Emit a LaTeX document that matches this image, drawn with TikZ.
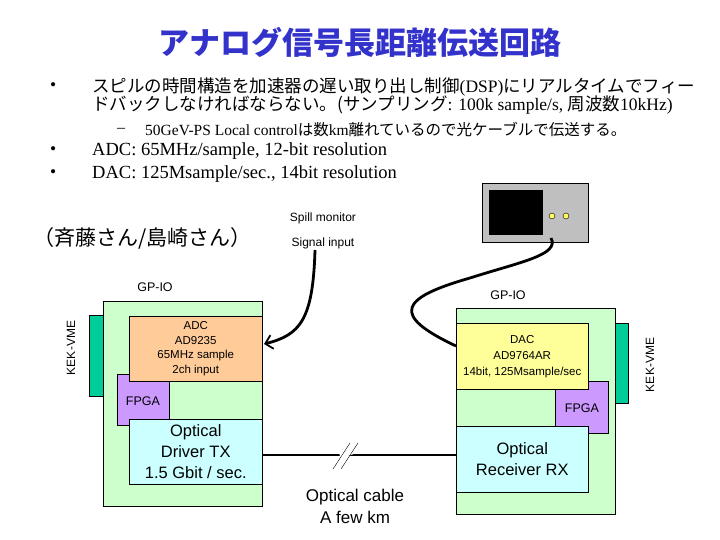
\documentclass[tikz,border=0pt]{standalone}
\usepackage{fontspec}
\usetikzlibrary{arrows.meta}
\setmainfont{Liberation Serif}
\setsansfont{Liberation Sans}
\newfontfamily\cjk{Noto Sans CJK JP}
\begin{document}
\begin{tikzpicture}[x=1pt,y=-1pt,
  box/.style={draw=black,line width=0.5pt,anchor=north west,inner sep=0},
  lbl/.style={font=\sffamily,align=center,inner sep=0},
  cable/.style={line width=2.8pt}]
\useasboundingbox (0,0) rectangle (720,540);
\definecolor{bgreen}{HTML}{CCFFCC}
\definecolor{vme}{HTML}{00CC99}
\definecolor{adc}{HTML}{FFCC99}
\definecolor{fpga}{HTML}{CC99FF}
\definecolor{opt}{HTML}{CCFFFF}
\definecolor{dac}{HTML}{FFFF99}
\definecolor{ttl}{HTML}{3333CC}
% title
\node (title) at (360,42) {\cjk\bfseries\fontsize{31}{33}\selectfont\color{ttl}アナログ信号長距離伝送回路};
% bullets
\tikzset{bul/.style={anchor=west,inner sep=0,font=\fontsize{17.5}{19}\selectfont}}
\node[bul] (b1) at (50,87) {•};
\node[bul] (t1) at (92,87) {{\cjk スピルの時間構造を加速器の遅い取り出し制御}(DSP){\cjk にリアルタイムでフィー}};
\node[bul] (t1b) at (92,105) {{\cjk ドバックしなければならない。(サンプリング}: 100k sample/s, {\cjk 周波数}10kHz)};
\node[anchor=west,inner sep=0,font=\fontsize{16}{18}\selectfont] (d1) at (117,130) {–};
\node[anchor=west,inner sep=0,font=\fontsize{15.5}{18}\selectfont] (t2) at (145,130) {50GeV-PS Local control{\cjk は数}km{\cjk 離れているので光ケーブルで伝送する。}};
\node[bul] (b2) at (50,151) {•};
\node[bul,font=\fontsize{18.5}{20}\selectfont] (t3) at (92,151) {ADC: 65MHz/sample, 12-bit resolution};
\node[bul] (b3) at (50,174) {•};
\node[bul,font=\fontsize{18.5}{20}\selectfont] (t4) at (92,174) {DAC: 125Msample/sec., 14bit resolution};
\node[anchor=west,inner sep=0] (names) at (33,238) {\cjk\fontsize{21}{22}\selectfont （斉藤さん/島崎さん）};
\node[lbl,font=\sffamily\fontsize{12}{13}\selectfont] (spill) at (323,218) {Spill monitor};
\node[lbl,font=\sffamily\fontsize{12}{13}\selectfont] (sig) at (323,243) {Signal input};
% left board
\node[lbl,font=\sffamily\fontsize{12.5}{13}\selectfont] (gp1) at (155,287) {GP-IO};
\draw[fill=vme] (89,315) rectangle (103,396);
\node[rotate=90,lbl,font=\sffamily\fontsize{12}{12}\selectfont] (k1) at (71,348) {KEK-VME};
\draw[fill=bgreen] (103,301) rectangle (262,506);
\node[box,fill=fpga,minimum width=52pt,minimum height=51pt] (f1) at (117,374) {};
\node[lbl,font=\sffamily\fontsize{12.5}{13}\selectfont] at (143,401) {FPGA};
\node[box,fill=adc,minimum width=133pt,minimum height=65pt] (adcb) at (129,316) {};
\node[lbl,font=\sffamily\fontsize{11.5}{14.5}\selectfont] at (adcb.center) {ADC\\AD9235\\65MHz sample\\2ch input};
\node[box,fill=opt,minimum width=133pt,minimum height=65pt] (tx) at (129,419) {};
\node[lbl,font=\sffamily\fontsize{16.5}{21}\selectfont] at (tx.center) {Optical\\Driver TX\\1.5 Gbit / sec.};
% right board
\node[lbl,font=\sffamily\fontsize{12.5}{13}\selectfont] (gp2) at (508,295) {GP-IO};
\draw[fill=vme] (615,323) rectangle (628,403);
\node[rotate=90,lbl,font=\sffamily\fontsize{12}{12}\selectfont] (k2) at (650,365) {KEK-VME};
\draw[fill=bgreen] (456,308) rectangle (615,514);
\node[box,fill=fpga,minimum width=53pt,minimum height=52pt] (f2) at (555,381) {};
\node[lbl,font=\sffamily\fontsize{12.5}{13}\selectfont] at (582,408) {FPGA};
\node[box,fill=dac,minimum width=132pt,minimum height=66pt] (dacb) at (456,323) {};
\node[lbl,font=\sffamily\fontsize{11.5}{16}\selectfont] at (dacb.center) {DAC\\AD9764AR\\14bit, 125Msample/sec};
\node[box,fill=opt,minimum width=132pt,minimum height=66pt] (rx) at (456,426) {};
\node[lbl,font=\sffamily\fontsize{16.5}{21}\selectfont] at (rx.center) {Optical\\Receiver RX};
% scope
\node[box,fill=black!25,minimum width=106pt,minimum height=59pt] (scope) at (482,183) {};
\node[box,fill=black,draw=none,minimum width=54pt,minimum height=45pt] (scr) at (489,190) {};
\draw[fill=yellow!60] (552,216) circle (3) (566,216) circle (3);
\coordinate (so) at (551,238);
\coordinate (dacin) at (456,346);
\draw[cable] (so) .. controls (560,255) and (520,262) .. (470,278)
  .. controls (400,298) and (390,315) .. (dacin);
% spill cable
\coordinate (sp) at (315,250);
\coordinate (ain) at (264,344);
\draw[cable,-{Straight Barb[length=7pt,width=14pt,line width=1.8pt]}] (sp) .. controls (313,320) and (300,335) .. (ain);
% optical cable
\coordinate (txo) at (262,455);
\coordinate (rxi) at (456,455);
\draw[cable] (txo) -- (rxi);
\draw[white,line width=5pt] (340,456) -- (352,452);
\draw (333,469) -- (350,443) (341,469) -- (358,443);
\node[lbl,font=\sffamily\fontsize{17}{22}\selectfont] (oc) at (355,506) {Optical cable\\A few km};
\end{tikzpicture}
\end{document}
